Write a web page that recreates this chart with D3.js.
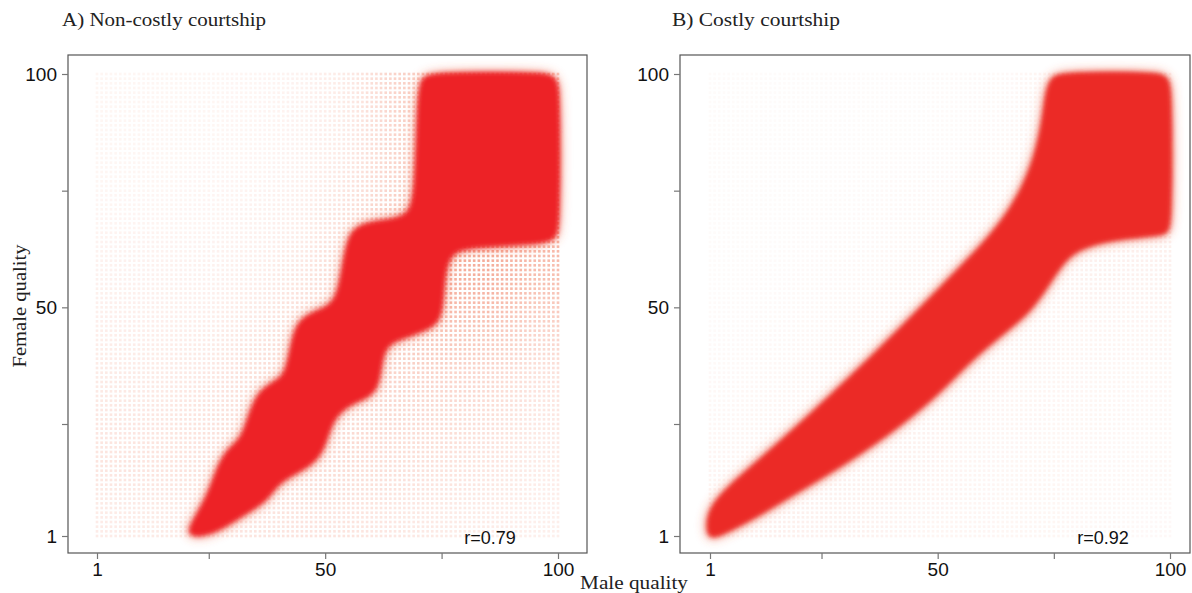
<!DOCTYPE html>
<html><head><meta charset="utf-8">
<script src="https://cdn.jsdelivr.net/npm/d3@7"></script>
<style>body{margin:0;background:#fff}</style>
</head><body>
<svg id="chart" width="1192" height="593"></svg>
<script>
// ---------- data ----------
const panelTitles = ["A) Non-costly courtship", "B) Costly courtship"];
const correlations = ["r=0.79", "r=0.92"];
const tickValues = [1, 25, 50, 75, 100];
const tickLabels = ["1", "", "50", "", "100"];
const qualityLevels = d3.range(1, 101);

// Panel A dense band edges (male quality, female quality)
const bandA_upperMale   = [20.6,22.4,25.0,27.2,29.4,32.2,33.8,35.8,39.4,41.8,43.1,45.1,48.4,52.6,53.9,55.2,58.1,63.9,68.1,69.4,69.9,70.6,72.4,99.2,100.3];
const bandA_upperFemale = [2.2, 5.4, 10.0,16.5,19.8,21.9,27.3,32.0,34.1,35.8,44.5,47.7,49.2,50.9,59.5,65.9,67.9,68.7,69.7,74.5,93.5,98.8,100.3,100.3,98.8];
const bandA_lowerMale   = [100.3,99.2,96.4,81.4,76.8,75.5,75.1,73.3,68.6,63.9,62.2,61.5,59.6,54.7,51.4,49.7,47.1,42.8,39.6,37.5,34.3,30.0,25.7,21.5];
const bandA_lowerFemale = [66.6, 64.8,63.6,63.1,61.8,57.1,48.5,45.9,44.1,42.6,39.9,33.4,30.9,29.1,25.9,19.5,16.3,14.1,12.0,8.8, 6.7, 4.0, 1.5, 0.9];

// Panel B dense band edges
const bandB_upperMale   = [0.3, 0.6, 4.8, 11.3,19.8,30.6,41.3,52.1,60.7,66.1,70.3,72.5,73.2,74.3,76.5,99.2,100.3];
const bandB_upperFemale = [1.8, 6.6, 11.4,16.9,24.4,34.4,44.7,55.7,64.4,71.4,79.9,88.9,95.5,99.0,100.3,100.3,98.8];
const bandB_lowerMale   = [100.3,99.2,89.3,81.8,77.5,74.2,69.9,63.5,57.0,50.5,41.9,31.2,20.4,11.8,5.3,1.4];
const bandB_lowerFemale = [66.6, 65.6,64.8,63.2,60.6,55.4,49.0,44.0,38.6,31.8,24.6,17.2,10.8,5.6, 2.2,0.4];

// Background (low-probability) opacity by decile: rows female 91-100 ... 1-10, cols male 1-10 ... 91-100
const bgA = [
  [0.07,0.07,0.07,0.08,0.10,0.17,0.34,0.40,0.40,0.40],
  [0.07,0.07,0.07,0.08,0.10,0.17,0.34,0.40,0.40,0.40],
  [0.07,0.07,0.08,0.09,0.12,0.21,0.34,0.45,0.45,0.45],
  [0.09,0.09,0.09,0.11,0.15,0.28,0.48,0.65,0.65,0.55],
  [0.11,0.11,0.11,0.14,0.21,0.32,0.48,0.60,0.60,0.48],
  [0.13,0.13,0.14,0.19,0.28,0.33,0.40,0.46,0.44,0.34],
  [0.16,0.16,0.19,0.25,0.31,0.33,0.33,0.33,0.30,0.22],
  [0.19,0.19,0.22,0.26,0.28,0.28,0.28,0.27,0.24,0.18],
  [0.20,0.21,0.23,0.26,0.27,0.27,0.24,0.22,0.20,0.15],
  [0.15,0.16,0.18,0.20,0.21,0.20,0.18,0.16,0.15,0.12]
];
const bgB = [
  [0.03,0.03,0.03,0.03,0.03,0.04,0.05,0.10,0.10,0.10],
  [0.03,0.03,0.03,0.03,0.03,0.04,0.06,0.10,0.10,0.10],
  [0.03,0.03,0.03,0.04,0.05,0.06,0.08,0.10,0.10,0.10],
  [0.03,0.03,0.04,0.05,0.06,0.08,0.10,0.12,0.12,0.12],
  [0.03,0.04,0.05,0.06,0.08,0.10,0.10,0.10,0.10,0.10],
  [0.04,0.05,0.06,0.08,0.10,0.10,0.10,0.08,0.08,0.08],
  [0.05,0.06,0.08,0.10,0.10,0.10,0.08,0.08,0.07,0.07],
  [0.06,0.08,0.10,0.10,0.10,0.08,0.08,0.07,0.07,0.06],
  [0.08,0.12,0.12,0.10,0.10,0.08,0.07,0.07,0.06,0.06],
  [0.10,0.12,0.10,0.10,0.08,0.08,0.07,0.07,0.06,0.05]
];

// ---------- drawing ----------
const svg = d3.select("#chart");
const defs = svg.append("defs");
function addBlur(id, sd) {
  defs.append("filter").attr("id", id)
    .attr("x","-10%").attr("y","-10%").attr("width","120%").attr("height","120%")
    .append("feGaussianBlur").attr("stdDeviation", sd);
}
addBlur("soft", 2.2);
addBlur("halo", 4);

const panels = [
  {frame:[68,587,55,553], xr:[97,558], yr:[536,74], bg:bgA,
   up:[bandA_upperMale,bandA_upperFemale], lo:[bandA_lowerMale,bandA_lowerFemale],
   fill:"#ED2226", title:panelTitles[0], tw:204, r:correlations[0], titleX:62, rX:490},
  {frame:[680,1190,55,553], xr:[710,1170], yr:[536,74], bg:bgB,
   up:[bandB_upperMale,bandB_upperFemale], lo:[bandB_lowerMale,bandB_lowerFemale],
   fill:"#EB2A26", title:panelTitles[1], tw:168, r:correlations[1], titleX:672, rX:1103}
];

function bgAlpha(mat, m, f) {
  const cx = Math.max(0, Math.min(9, (m - 5.5) / 10));
  const cy = Math.max(0, Math.min(9, (f - 5.5) / 10));
  const c0 = Math.floor(cx), c1 = Math.min(9, c0 + 1), tx = cx - c0;
  const r0 = Math.floor(cy), r1 = Math.min(9, r0 + 1), ty = cy - r0;
  const g = (r, c) => mat[9 - r][c];
  return (g(r0,c0)*(1-tx) + g(r0,c1)*tx)*(1-ty) + (g(r1,c0)*(1-tx) + g(r1,c1)*tx)*ty;
}

panels.forEach(p => {
  const x = d3.scaleLinear().domain([1,100]).range(p.xr);
  const y = d3.scaleLinear().domain([1,100]).range(p.yr);
  const g = svg.append("g");

  const grid = [];
  qualityLevels.forEach(m => qualityLevels.forEach(f => grid.push([m,f])));
  g.append("g").selectAll("rect").data(grid).join("rect")
    .attr("x", d => x(d[0]) - 1.3).attr("y", d => y(d[1]) - 1.3)
    .attr("width", 2.6).attr("height", 2.6)
    .attr("fill", "#EF7A5C")
    .attr("fill-opacity", d => bgAlpha(p.bg, d[0], d[1]));

  const pts = p.up[0].map((m,i) => [m, p.up[1][i]])
    .concat(p.lo[0].map((m,i) => [m, p.lo[1][i]]));
  const line = d3.line().x(d => x(d[0])).y(d => y(d[1]))
    .curve(d3.curveBasisClosed);
  const dPath = line(pts);
  g.append("path").attr("d", dPath)
    .attr("fill", "#EE5A3E").attr("fill-opacity", 0.5)
    .attr("stroke", "#EE5A3E").attr("stroke-width", 9).attr("stroke-opacity", 0.35)
    .attr("stroke-linejoin","round").attr("filter", "url(#halo)");
  g.append("path").attr("d", dPath)
    .attr("fill", p.fill).attr("stroke", p.fill).attr("stroke-width", 3)
    .attr("stroke-opacity", 0.6).attr("stroke-linejoin","round")
    .attr("filter", "url(#soft)");

  const [fl, fr, ft, fb] = p.frame;
  g.append("rect").attr("x", fl).attr("y", ft).attr("width", fr - fl).attr("height", fb - ft)
    .attr("fill", "none").attr("stroke", "#555").attr("stroke-width", 1.2);

  const xa = g.append("g").attr("transform", `translate(0,${fb})`)
    .call(d3.axisBottom(x).tickValues(tickValues).tickFormat((d,i) => tickLabels[i]).tickSize(6).tickPadding(4));
  const ya = g.append("g").attr("transform", `translate(${fl},0)`)
    .call(d3.axisLeft(y).tickValues(tickValues).tickFormat((d,i) => tickLabels[i]).tickSize(6).tickPadding(5));
  [xa, ya].forEach(a => {
    a.select(".domain").remove();
    a.selectAll("line").attr("stroke", "#777").attr("stroke-width", 1.2);
    a.selectAll("text").attr("font-family", "Liberation Sans, Arial, sans-serif")
      .attr("font-size", 19).attr("fill", "#111");
  });

  svg.append("text").attr("x", p.titleX).attr("y", 26)
    .attr("font-family", "Liberation Serif, serif").attr("font-size", 19)
    .attr("textLength", p.tw).attr("lengthAdjust", "spacingAndGlyphs")
    .attr("fill", "#222").text(p.title);
  svg.append("text").attr("x", p.rX).attr("y", 544).attr("text-anchor", "middle")
    .attr("font-family", "Liberation Sans, Arial, sans-serif").attr("font-size", 18)
    .attr("fill", "#111").text(p.r);
});

svg.append("text").attr("x", 634).attr("y", 589).attr("text-anchor", "middle")
  .attr("font-family", "Liberation Serif, serif").attr("font-size", 19).attr("fill", "#222")
  .attr("textLength", 108).attr("lengthAdjust", "spacingAndGlyphs")
  .text("Male quality");
svg.append("text").attr("transform", "translate(26,306) rotate(-90)").attr("text-anchor", "middle")
  .attr("font-family", "Liberation Serif, serif").attr("font-size", 19).attr("fill", "#222")
  .attr("textLength", 123).attr("lengthAdjust", "spacingAndGlyphs")
  .text("Female quality");
</script>
</body></html>
